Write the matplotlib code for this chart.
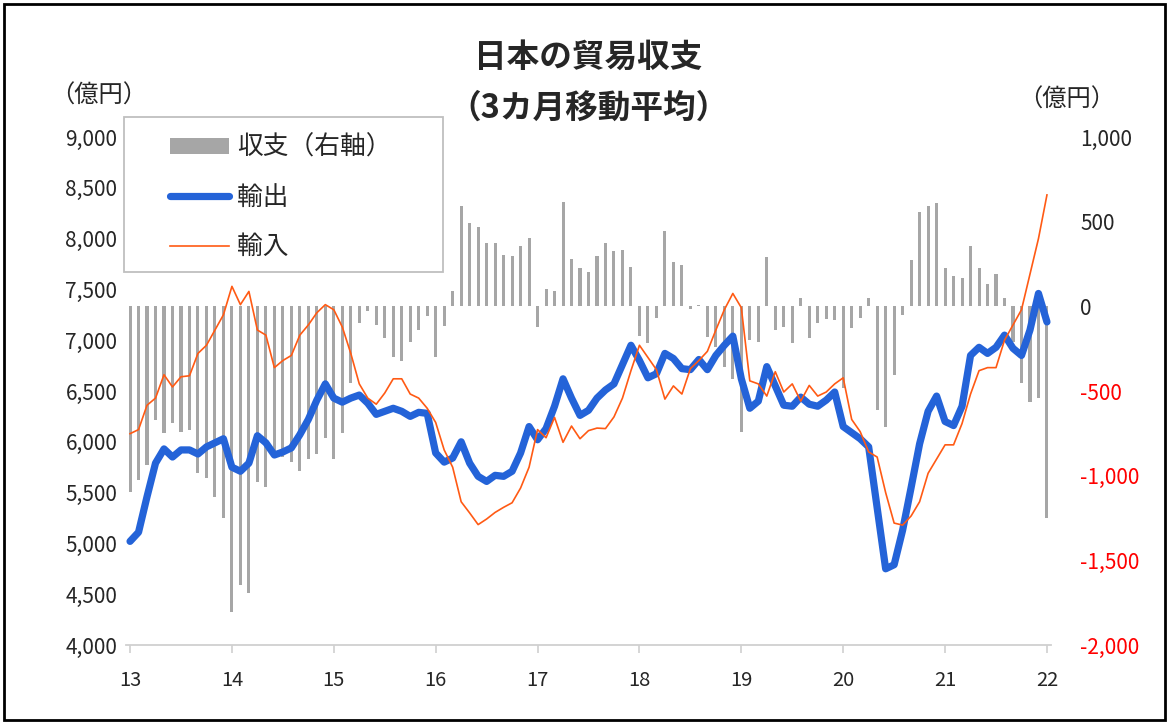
import matplotlib
matplotlib.use('Agg')
import matplotlib.pyplot as plt
from matplotlib.patches import Rectangle, Patch
from matplotlib.lines import Line2D
import matplotlib.ticker as mticker
import numpy as np

plt.rcParams['font.family'] = ['Noto Sans CJK JP', 'DejaVu Sans']

# ---- data (monthly, 2013-01 .. 2022-01, 3-month moving average) ----
year_labels = ['13', '14', '15', '16', '17', '18', '19', '20', '21', '22']

exports = [
    5020, 5110, 5460, 5790, 5930, 5850, 5920, 5920, 5880, 5950, 5990, 6030,   # 2013
    5750, 5710, 5790, 6060, 5990, 5870, 5900, 5940, 6070, 6220, 6410, 6570,   # 2014
    6430, 6390, 6430, 6460, 6380, 6270, 6300, 6330, 6300, 6250, 6290, 6280,   # 2015
    5890, 5800, 5840, 6000, 5790, 5660, 5610, 5670, 5660, 5710, 5890, 6150,   # 2016
    6020, 6130, 6350, 6620, 6430, 6260, 6310, 6430, 6510, 6570, 6760, 6950,   # 2017
    6800, 6630, 6670, 6870, 6820, 6720, 6710, 6810, 6710, 6850, 6950, 7040,   # 2018
    6620, 6330, 6400, 6740, 6550, 6360, 6350, 6440, 6370, 6350, 6410, 6490,   # 2019
    6150, 6090, 6030, 5950, 5350, 4750, 4790, 5130, 5550, 5980, 6300, 6450,   # 2020
    6200, 6160, 6350, 6850, 6930, 6870, 6930, 7050, 6920, 6850, 7100, 7460,   # 2021
    7180,                                                                     # 2022
]

imports = [
    6080, 6120, 6360, 6430, 6660, 6540, 6640, 6650, 6870, 6950, 7100, 7250,
    7530, 7350, 7480, 7100, 7050, 6730, 6800, 6850, 7050, 7150, 7270, 7350,
    7300, 7130, 6870, 6570, 6430, 6370, 6480, 6620, 6620, 6470, 6430, 6330,
    6190, 5920, 5750, 5410, 5300, 5185, 5240, 5305, 5355, 5400, 5545, 5750,
    6120, 6040, 6240, 5995, 6155, 6030, 6110, 6135, 6130, 6245, 6430, 6700,
    6950, 6830, 6710, 6420, 6550, 6470, 6720, 6800, 6890, 7100, 7300, 7460,
    7320, 6600, 6570, 6450, 6690, 6490, 6570, 6400, 6555, 6450, 6490, 6570,
    6630, 6220, 6100, 5900, 5850, 5500, 5200, 5180, 5270, 5410, 5690, 5830,
    5970, 5970, 6180, 6470, 6700, 6730, 6730, 7000, 7150, 7300, 7650, 8000,
    8430,
]

balance = [
    -1095, -1026, -937, -671, -748, -690, -740, -730, -986, -1015, -1124, -1250,
    -1803, -1646, -1695, -1036, -1065, -890, -890, -917, -970, -900, -870, -780,
    -900, -750, -450, -100, -30, -110, -185, -300, -322, -210, -140, -55,
    -300, -115, 92, 590, 490, 470, 372, 372, 303, 295, 358, 403,
    -120, 100, 88, 615, 280, 224, 200, 295, 372, 326, 334, 234,
    -175, -219, -71, 447, 264, 244, -15, 10, -180, -240, -360, -430,
    -740, -200, -209, 293, -140, -120, -219, 47, -185, -100, -75, -81,
    -480, -130, -71, 47, -612, -711, -406, -51, 271, 556, 595, 610,
    224, 182, 168, 359, 224, 134, 193, 47, -210, -455, -563, -543,
    -1252,
]

W, H = 1169, 724
fig = plt.figure(figsize=(W / 100, H / 100), dpi=100)
fig.patch.set_facecolor('white')

TXT = '#262626'
x = np.arange(len(exports))
ax_left = 125.8 / W
ax_w = (1051.2 - 125.8) / W
ax_bottom = 1 - 645 / H
ax_h = 508 / H
ax = fig.add_axes([ax_left, ax_bottom, ax_w, ax_h])
ax2 = ax.twinx()
ax.set_zorder(ax2.get_zorder() + 1)
ax.patch.set_visible(False)

# bars (right axis)
ax2.bar(x, balance, width=0.36, color='#a6a6a6', edgecolor='none', zorder=1)
ax2.set_ylim(-2000, 1000)
ax2.set_yticks(np.arange(-2000, 1001, 500))

# lines (left axis)
ax.plot(x, exports, color='#2463d8', lw=5.2, solid_joinstyle='round',
        solid_capstyle='round', zorder=3)
ax.plot(x, imports, color='#ff5a14', lw=1.2, zorder=4)
ax.set_ylim(4000, 9000)
ax.set_yticks(np.arange(4000, 9001, 500))
ax.set_xlim(-0.5, len(exports) - 0.5)
ax.set_xticks(np.arange(0, len(exports), 12))
ax.set_xticklabels(year_labels)

fmt = mticker.FuncFormatter(lambda v, p: f'{int(v):,}')
ax.yaxis.set_major_formatter(fmt)
ax2.yaxis.set_major_formatter(fmt)

for a in (ax, ax2):
    for s in ('top', 'left', 'right', 'bottom'):
        a.spines[s].set_visible(False)
ax.spines['bottom'].set_visible(True)
ax.spines['bottom'].set_color('#d0d0d0')
ax.spines['bottom'].set_linewidth(1.3)

ax.tick_params(axis='x', direction='out', length=6, width=1.2, color='#d0d0d0',
               labelsize=14.5, pad=12, labelcolor=TXT)
ax.tick_params(axis='y', length=0, labelsize=15, pad=6, labelcolor=TXT)
ax2.tick_params(axis='y', length=0, labelsize=15, pad=21, labelcolor=TXT)
ax2.tick_params(axis='x', length=0)

fig.canvas.draw()
for lab, v in zip(ax2.get_yticklabels(), ax2.get_yticks()):
    lab.set_color('#ff0000' if v < 0 else TXT)

# titles and unit labels
fig.text(588 / W, 1 - 57 / H, '日本の貿易収支', ha='center', va='center',
         fontsize=23.5, fontweight='bold', color=TXT)
fig.text(588 / W, 1 - 108 / H, '（3カ月移動平均）', ha='center', va='center',
         fontsize=23.5, fontweight='bold', color=TXT)
fig.text(99 / W, 1 - 96 / H, '（億円）', ha='center', va='center',
         fontsize=17.5, color=TXT)
fig.text(1067 / W, 1 - 100 / H, '（億円）', ha='center', va='center',
         fontsize=17.5, color=TXT)

# legend box
fig.patches.append(Rectangle((124 / W, 1 - 272 / H), 319 / W, 155 / H,
                             transform=fig.transFigure, facecolor='white',
                             edgecolor='#bfbfbf', lw=1.3, zorder=4))
handles = [Patch(facecolor='#a6a6a6', edgecolor='none'),
           Line2D([], [], color='#2463d8', lw=5.2, solid_capstyle='round'),
           Line2D([], [], color='#ff5a14', lw=1.2)]
labels = ['収支（右軸）', '輸出', '輸入']
leg = fig.legend(handles, labels, loc='upper left',
                 bbox_to_anchor=(170 / W, 1 - 135 / H), frameon=False,
                 fontsize=18.5, handlelength=2.3, handleheight=0.55,
                 handletextpad=0.3, labelspacing=0.92, borderpad=0,
                 borderaxespad=0)
leg.set_zorder(6)
for t in leg.get_texts():
    t.set_color(TXT)

# outer frame
fig.patches.append(Rectangle((4 / W, 4 / H), (W - 8) / W, (H - 8) / H,
                             transform=fig.transFigure, facecolor='none',
                             edgecolor='black', lw=2, zorder=10))

fig.savefig('out.png', dpi=100, facecolor='white')
